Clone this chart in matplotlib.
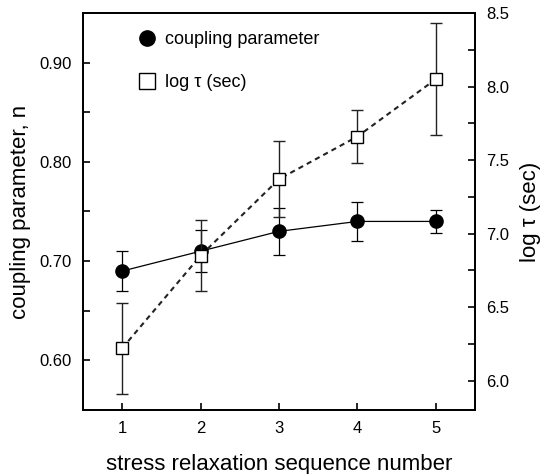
import matplotlib
matplotlib.use("Agg")
import matplotlib.pyplot as plt
from matplotlib.ticker import MultipleLocator

# data
seq = [1, 2, 3, 4, 5]
n_val = [0.69, 0.71, 0.73, 0.74, 0.74]
n_err = [0.02, 0.021, 0.024, 0.02, 0.012]
logtau = [6.22, 6.85, 7.37, 7.66, 8.05]
logtau_err = [0.31, 0.24, 0.26, 0.18, 0.38]

plt.rcParams['font.family'] = ['Liberation Sans', 'DejaVu Sans']
plt.rcParams['font.size'] = 12

fig = plt.figure(figsize=(5.47, 4.74), dpi=100)
ax = fig.add_axes([0.1517, 0.135, 0.7167, 0.8376])
ax2 = ax.twinx()

# coupling parameter (left axis)
ax.errorbar(seq, n_val, yerr=n_err, fmt='o-', color='black', ms=9.5,
            lw=0.9, elinewidth=0.9, capsize=4.5, capthick=0.9, zorder=3)

# log tau (right axis)
ax2.errorbar(seq, logtau, yerr=logtau_err, fmt='s', color='#222222', ms=8.5,
             mfc='white', mec='black', mew=1.0, ls=(0, (2.5, 2)), lw=1.5,
             elinewidth=1.0, capsize=4.5, capthick=1.0, zorder=3)

ax.set_xlim(0.5, 5.5)
ax.set_ylim(0.55, 0.95)
ax2.set_ylim(5.8, 8.5)

ax.set_xticks(seq)
ax.yaxis.set_major_locator(MultipleLocator(0.1))
ax.yaxis.set_minor_locator(MultipleLocator(0.05))
ax.yaxis.set_major_formatter(matplotlib.ticker.FormatStrFormatter('%.2f'))
ax2.yaxis.set_major_locator(MultipleLocator(0.5))
ax2.yaxis.set_minor_locator(MultipleLocator(0.25))
ax2.yaxis.set_major_formatter(matplotlib.ticker.FormatStrFormatter('%.1f'))

for a in (ax, ax2):
    a.tick_params(which='both', direction='in', length=5, width=1.2, labelsize=12)
    for s in a.spines.values():
        s.set_linewidth(1.3)
ax.tick_params(axis='x', top=False, pad=8)
ax.tick_params(axis='y', pad=8)
ax2.tick_params(axis='y', pad=8)

ax.set_xlabel('stress relaxation sequence number', fontsize=16, labelpad=13)
ax.set_ylabel('coupling parameter, n', fontsize=16, labelpad=6)
ax2.set_ylabel('log τ (sec)', fontsize=16, labelpad=8)

# legend
h1 = plt.Line2D([], [], marker='o', color='black', ls='none', ms=11)
h2 = plt.Line2D([], [], marker='s', mfc='white', mec='black', ls='none', ms=11, mew=1.0)
ax.legend([h1, h2], ['coupling parameter', 'log τ (sec)'], loc='upper left',
          bbox_to_anchor=(0.098, 0.995), frameon=False, fontsize=13,
          labelspacing=1.45, handlelength=1.0, handletextpad=0.5)

fig.savefig('out.png', dpi=100)
